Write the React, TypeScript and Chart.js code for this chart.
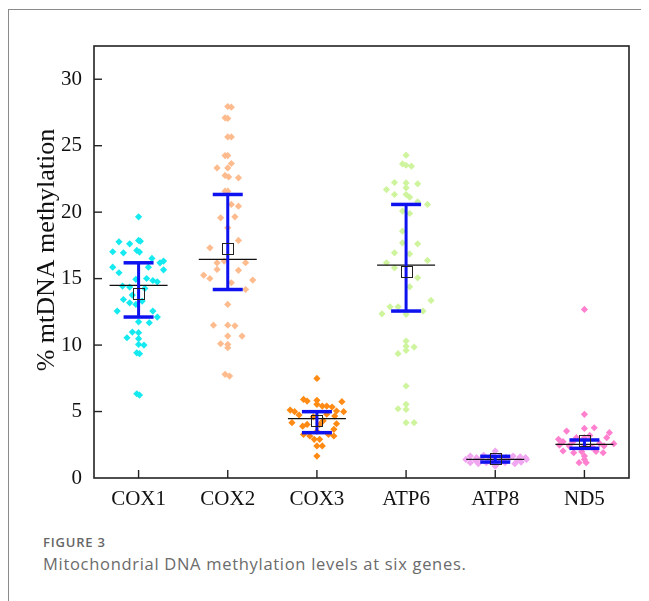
import React, { useEffect, useRef } from "react";
import { Chart, registerables } from "chart.js";

Chart.register(...registerables);

const categories = ["COX1", "COX2", "COX3", "ATP6", "ATP8", "ND5"];
const yTicks = [0, 5, 10, 15, 20, 25, 30];

const cox1Values = [19.65, 17.77, 17.62, 17.87, 17.82, 17.02, 16.94, 17.12, 17.0, 16.52, 16.19, 16.32, 15.86, 15.44, 15.66, 15.86, 15.01, 14.86, 14.76, 14.95, 14.44, 14.36, 14.26, 13.76, 13.43, 13.18, 13.06, 13.31, 12.56, 12.56, 12.11, 11.75, 11.68, 10.98, 10.93, 10.55, 10.48, 10.05, 10.0, 9.42, 9.35, 6.34, 6.24];
const cox1Jitter = [0, -0.22, -0.1, 0, 0.02, -0.29, -0.17, -0.02, 0.01, 0.15, 0.24, 0.28, -0.29, -0.22, 0.28, 0.11, 0.09, 0.16, 0.21, -0.03, -0.18, -0.1, 0.07, -0.07, -0.17, -0.1, -0.03, 0.04, -0.24, 0.16, 0.21, 0, 0.12, -0.07, 0, -0.13, 0, 0, 0.06, -0.02, 0.01, -0.02, 0.01];

const cox2Values = [27.95, 27.9, 27.1, 27.05, 25.66, 25.66, 24.26, 24.26, 23.66, 23.33, 23.33, 22.76, 22.65, 22.58, 21.58, 21.58, 20.58, 20.45, 19.57, 19.65, 18.82, 17.87, 17.32, 16.19, 16.32, 16.2, 15.69, 15.62, 15.26, 15.01, 14.69, 14.89, 14.18, 13.06, 11.5, 11.5, 11.45, 10.68, 10.68, 10.1, 10.05, 9.8, 7.8, 7.67];
const cox2Jitter = [0, 0.04, -0.03, 0, 0, 0.04, -0.03, 0, 0.04, 0, -0.12, -0.03, 0.01, 0.12, -0.03, 0, 0.04, 0.12, -0.08, 0.08, 0, 0.12, -0.2, -0.12, -0.04, 0.2, -0.12, 0.12, -0.27, -0.2, 0.04, 0.28, 0.2, 0, -0.16, 0, 0.08, 0, 0.16, -0.08, 0, 0, -0.03, 0.02];

const cox3Values = [7.49, 5.91, 5.79, 5.84, 5.54, 5.41, 5.41, 5.34, 5.74, 5.11, 4.99, 5.04, 4.99, 4.74, 4.66, 4.16, 4.08, 4.03, 4.03, 3.66, 3.28, 3.16, 3.28, 3.16, 2.91, 2.91, 2.41, 2.41, 1.65, 4.6, 4.3, 3.9, 4.8, 3.5];
const cox3Jitter = [0, -0.15, -0.11, 0, 0, 0.06, 0.11, 0.17, 0.28, -0.3, -0.25, 0.22, 0.3, -0.2, 0.2, -0.28, 0.22, -0.11, 0.03, 0.19, -0.15, -0.08, 0.13, 0.19, -0.03, 0.03, 0, 0.06, 0, -0.04, 0.07, -0.16, 0.11, 0];

const atp6Values = [24.29, 23.63, 23.53, 23.46, 22.23, 22.13, 21.7, 22.2, 21.83, 21.33, 21.33, 21.13, 20.78, 20.58, 20.08, 19.9, 18.57, 17.69, 17.62, 16.94, 16.86, 16.19, 16.37, 15.81, 15.06, 14.38, 13.36, 12.88, 12.88, 12.35, 12.56, 12.31, 10.3, 9.92, 9.6, 9.85, 9.35, 6.92, 5.54, 5.21, 5.16, 4.16, 4.16];
const atp6Jitter = [0, -0.04, 0, 0.06, -0.13, 0.13, -0.22, 0, 0, -0.13, 0, 0.04, 0.13, 0.24, -0.04, 0.04, -0.04, -0.04, 0.13, -0.13, 0.04, -0.22, 0.24, -0.13, 0.13, 0.04, 0.28, -0.18, -0.09, -0.27, 0.19, 0, 0, 0, 0, 0.09, -0.09, 0, 0, -0.09, 0, 0, 0.09];

const atp8Values = [2.03, 1.65, 1.53, 1.71, 1.55, 1.65, 1.55, 1.65, 1.6, 1.53, 1.15, 1.08, 1.15, 1.0, 1.15, 1.08, 1.2, 0.9, 1.4, 1.4, 1.3, 1.35, 1.45, 1.5, 1.25, 1.3, 1.7, 1.2];
const atp8Jitter = [0, -0.28, -0.21, -0.13, -0.06, 0.06, 0.12, 0.2, 0.28, 0.34, -0.28, -0.19, -0.1, 0.01, 0.11, 0.22, 0.29, 0, -0.33, 0.35, -0.22, 0.25, -0.16, 0.16, -0.06, 0.07, -0.02, -0.02];

const nd5Values = [12.68, 4.79, 3.53, 3.78, 3.73, 3.41, 3.03, 2.91, 2.73, 3.03, 3.03, 2.58, 2.41, 2.48, 2.41, 2.41, 2.33, 2.03, 1.9, 1.98, 2.0, 1.9, 1.15, 1.15, 1.65, 2.7, 2.2, 3.2, 1.4, 2.6];
const nd5Jitter = [0, 0, -0.2, 0.11, 0, 0.28, 0.25, -0.29, -0.24, -0.09, 0, 0.33, 0.22, -0.28, -0.17, 0, 0.08, -0.24, -0.12, -0.03, 0.13, 0.21, -0.06, 0.02, 0, -0.13, 0.11, 0.06, 0, 0.17];

const medians = [14.49, 16.44, 4.46, 16.02, 1.4, 2.53];
const means = [13.86, 17.24, 4.34, 15.56, 1.45, 2.8];
const errLow = [12.11, 14.18, 3.41, 12.56, 1.2, 2.23];
const errHigh = [16.19, 21.33, 4.99, 20.58, 1.63, 2.86];

const groupValues = [cox1Values, cox2Values, cox3Values, atp6Values, atp8Values, nd5Values];
const groupJitter = [cox1Jitter, cox2Jitter, cox3Jitter, atp6Jitter, atp8Jitter, nd5Jitter];
const groupColors = ["#14EAF0", "#FDBB8E", "#FF8A14", "#CEF49E", "#F0A6F0", "#FF80CE"];

const SERIF = "'Liberation Serif', 'Times New Roman', serif";

const overlayPlugin = {
  id: "overlay",
  afterDraw(chart: any) {
    const { ctx, chartArea, scales } = chart;
    const x = scales.x;
    const y = scales.y;
    ctx.save();
    const line = (x1: number, y1: number, x2: number, y2: number) => {
      ctx.beginPath();
      ctx.moveTo(x1, y1);
      ctx.lineTo(x2, y2);
      ctx.stroke();
    };
    categories.forEach((_, i) => {
      const cx = x.getPixelForValue(i + 1);
      ctx.strokeStyle = "#111";
      ctx.lineWidth = 1.3;
      const my = y.getPixelForValue(medians[i]);
      line(cx - 29, my, cx + 29, my);
      const ty = y.getPixelForValue(errHigh[i]);
      const by = y.getPixelForValue(errLow[i]);
      ctx.strokeStyle = "#0E12EE";
      ctx.lineWidth = 3;
      line(cx, ty, cx, by);
      ctx.lineWidth = 3.5;
      line(cx - 15, ty, cx + 15, ty);
      line(cx - 15, by, cx + 15, by);
      const sy = y.getPixelForValue(means[i]);
      ctx.strokeStyle = "#222";
      ctx.lineWidth = 1;
      ctx.strokeRect(Math.round(cx - 5.5) + 0.5, Math.round(sy - 5.5) + 0.5, 11, 11);
    });
    ctx.strokeStyle = "#222";
    ctx.lineWidth = 1.6;
    ctx.strokeRect(chartArea.left, chartArea.top, chartArea.right - chartArea.left, chartArea.bottom - chartArea.top);
    ctx.lineWidth = 1.4;
    yTicks.forEach((v) => {
      if (v === 0) return;
      const py = y.getPixelForValue(v);
      line(chartArea.left, py, chartArea.left + 8, py);
    });
    categories.forEach((_, i) => {
      const px = x.getPixelForValue(i + 1);
      line(px, chartArea.bottom, px, chartArea.bottom - 8);
    });
    ctx.translate(38, 240);
    ctx.rotate(-Math.PI / 2);
    ctx.fillStyle = "#111";
    ctx.font = `26px ${SERIF}`;
    ctx.textAlign = "center";
    ctx.textBaseline = "middle";
    ctx.fillText("% mtDNA methylation", 0, 0);
    ctx.restore();
  },
};

function App() {
  const ref = useRef<HTMLCanvasElement>(null);
  useEffect(() => {
    if (!ref.current) return;
    const datasets = categories.map((name, gi) => ({
      label: name,
      data: groupValues[gi].map((v, k) => ({ x: gi + 1 + groupJitter[gi][k], y: v })),
      backgroundColor: groupColors[gi],
      borderWidth: 0,
      pointStyle: "rectRot",
      pointRadius: 3.6,
    }));
    const chart = new Chart(ref.current, {
      type: "scatter",
      data: { datasets },
      options: {
        responsive: false,
        animation: false,
        devicePixelRatio: 1,
        layout: { padding: { left: 0, top: 36, right: 12, bottom: 12 } },
        plugins: { legend: { display: false }, tooltip: { enabled: false } },
        scales: {
          x: {
            type: "linear",
            min: 0.5,
            max: 6.5,
            grid: { display: false, drawTicks: false },
            border: { display: false },
            afterBuildTicks: (s: any) => {
              s.ticks = categories.map((_, i) => ({ value: i + 1 }));
            },
            afterFit: (s: any) => {
              s.height = 40;
            },
            ticks: {
              autoSkip: false,
              maxRotation: 0,
              padding: 9,
              color: "#111",
              font: { family: SERIF, size: 21 },
              callback: (v: any) => categories[Math.round(v) - 1] ?? "",
            },
          },
          y: {
            min: 0,
            max: 32.5,
            grid: { display: false, drawTicks: false },
            border: { display: false },
            afterBuildTicks: (s: any) => {
              s.ticks = yTicks.map((v) => ({ value: v }));
            },
            afterFit: (s: any) => {
              s.width = 85;
            },
            ticks: {
              padding: 12,
              color: "#111",
              font: { family: SERIF, size: 21 },
              callback: (v: any) => String(v),
            },
          },
        },
      },
      plugins: [overlayPlugin],
    } as any);
    return () => chart.destroy();
  }, []);

  return (
    <div
      style={{
        position: "relative",
        width: 641,
        height: 592,
        marginTop: 1,
        borderTop: "1px solid #8a8a8a",
        borderLeft: "1px solid #8a8a8a",
        boxSizing: "border-box",
        background: "#fff",
      }}
    >
      <canvas ref={ref} width={632} height={520} style={{ position: "absolute", left: 0, top: 0, display: "block" }} />
      <div
        style={{
          position: "absolute",
          left: 34,
          top: 523,
          fontFamily: "'Open Sans', 'Noto Sans', sans-serif",
          fontSize: 13,
          fontWeight: 600,
          color: "#666",
          letterSpacing: 0.8,
          whiteSpace: "nowrap",
        }}
      >
        FIGURE 3
      </div>
      <div
        style={{
          position: "absolute",
          left: 34,
          top: 542,
          fontFamily: "'Open Sans', 'Noto Sans', sans-serif",
          fontSize: 16.5,
          color: "#6b6b6b",
          letterSpacing: 0.7,
          whiteSpace: "nowrap",
        }}
      >
        Mitochondrial DNA methylation levels at six genes.
      </div>
    </div>
  );
}

export default App;
